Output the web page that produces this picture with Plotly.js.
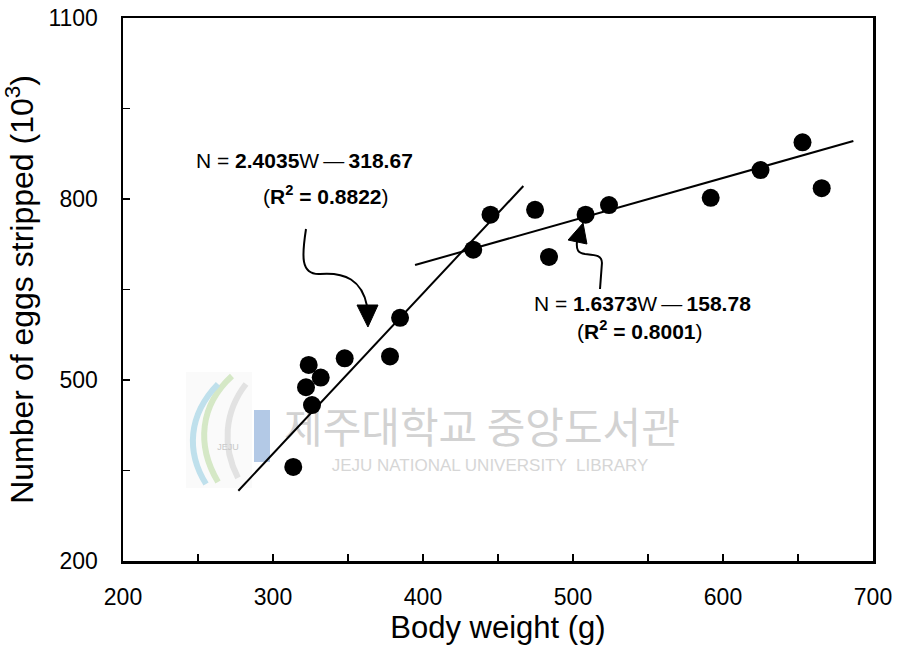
<!DOCTYPE html>
<html>
<head>
<meta charset="utf-8">
<script src="https://cdn.plot.ly/plotly-3.0.1.min.js"></script>
<style>
  html, body { margin: 0; padding: 0; background: #ffffff; }
  #chart { width: 900px; height: 661px; }
</style>
</head>
<body>
<div id="chart"></div>
<script>
// Body weight (g) and number of eggs stripped (x10^3) per female
const bodyWeight = [313.5, 322, 323.8, 326, 331.8, 347.8, 378, 384.7, 433.5, 445, 474.7, 484, 508.4, 524, 591.8, 625, 653, 665.8];
const eggsStripped = [356, 488, 525, 458.5, 504, 536, 539, 603, 716, 774, 782, 704, 774, 790, 802, 848, 894, 818];

// Fitted regression segments (end points of each drawn line)
const fit1W = [276.9, 466.9];
const fit1N = [316.5, 821.5];
const fit2W = [394.7, 686.9];
const fit2N = [690.6, 896];

// Axis ticks
const xTickVals = [200, 250, 300, 350, 400, 450, 500, 550, 600, 650, 700];
const xTickText = ['200', '', '300', '', '400', '', '500', '', '600', '', '700'];
const yTickVals = [200, 350, 500, 650, 800, 950, 1100];
const yTickText = ['200', '', '500', '', '800', '', '1100'];

// Regression equations
const eq1 = ['N = <b>2.4035</b>W\u2009—\u2009<b>318.67</b>', '(<b>R<sup>2</sup> = 0.8822</b>)'];
const eq2 = ['N = <b>1.6373</b>W\u2009—\u2009<b>158.78</b>', '(<b>R<sup>2</sup> = 0.8001</b>)'];

// Library watermark texts
const wmKorean = '제주대학교 중앙도서관';
const wmEnglish = 'JEJU NATIONAL UNIVERSITY  LIBRARY';
const wmLogo = 'JEJU';

const FONT = 'Liberation Sans, Arial, Helvetica, sans-serif';

const traces = [
  // watermark text, drawn first so it sits under the data
  {
    x: [439.3], y: [413.8], type: 'scatter', mode: 'text', text: [wmKorean],
    textfont: { family: 'Noto Sans CJK KR', size: 42, color: '#d2d2d2' },
    hoverinfo: 'skip', showlegend: false, cliponaxis: false
  },
  {
    x: [444.7], y: [355.8], type: 'scatter', mode: 'text', text: [wmEnglish],
    textfont: { family: FONT, size: 17, color: '#d6d6d6' },
    hoverinfo: 'skip', showlegend: false, cliponaxis: false
  },
  {
    x: [270], y: [387.3], type: 'scatter', mode: 'text', text: [wmLogo],
    textfont: { family: FONT, size: 9, color: '#c8c8c8' },
    hoverinfo: 'skip', showlegend: false, cliponaxis: false
  },
  {
    x: fit1W, y: fit1N, type: 'scatter', mode: 'lines',
    line: { color: '#000', width: 2 }, hoverinfo: 'skip', showlegend: false
  },
  {
    x: fit2W, y: fit2N, type: 'scatter', mode: 'lines',
    line: { color: '#000', width: 2 }, hoverinfo: 'skip', showlegend: false
  },
  {
    x: bodyWeight, y: eggsStripped, type: 'scatter', mode: 'markers',
    marker: { color: '#000', size: 18, line: { width: 0 } }, showlegend: false
  }
];

// Logo helpers: canvas pixel -> paper fraction
const L = 123, R = 873, T = 18, B = 561;
const px = v => (v - L) / (R - L);
const py = v => (B - v) / (B - T);
function pathPx(cmds) {
  return cmds.map(c => {
    const out = [c[0]];
    for (let i = 1; i < c.length; i += 2) out.push(px(c[i]).toFixed(4) + ',' + py(c[i + 1]).toFixed(4));
    return out.join(' ');
  }).join(' ');
}

const shapes = [
  // watermark logo
  { type: 'rect', xref: 'paper', yref: 'paper', layer: 'below',
    x0: px(186), x1: px(252), y0: py(488), y1: py(372),
    fillcolor: '#fafafa', line: { width: 0 } },
  { type: 'path', xref: 'paper', yref: 'paper', layer: 'below',
    path: pathPx([['M', 232, 376], ['C', 200, 405, 196, 445, 218, 482]]),
    line: { color: '#d5e8c6', width: 6 } },
  { type: 'path', xref: 'paper', yref: 'paper', layer: 'below',
    path: pathPx([['M', 218, 384], ['C', 188, 415, 186, 452, 206, 484]]),
    line: { color: '#bfe0ec', width: 6 } },
  { type: 'path', xref: 'paper', yref: 'paper', layer: 'below',
    path: pathPx([['M', 246, 384], ['C', 224, 412, 222, 447, 238, 478]]),
    line: { color: '#e2e2e2', width: 6 } },
  { type: 'rect', xref: 'paper', yref: 'paper', layer: 'below',
    x0: px(254), x1: px(270), y0: py(462), y1: py(410),
    fillcolor: '#b3c9e6', line: { width: 0 } },
  // curved arrow pointing at the steep fit
  { type: 'path', xref: 'x', yref: 'y',
    path: 'M 322,750.3 C 319.3,707.2 318,674 331.3,675.7 C 348,679 359.3,665.7 362.7,622.6',
    line: { color: '#000', width: 2 } },
  { type: 'path', xref: 'x', yref: 'y',
    path: 'M 356,624.3 L 370,624.3 L 363.3,587.8 Z',
    fillcolor: '#000', line: { color: '#000', width: 1 } },
  // curved arrow pointing at the shallow fit
  { type: 'path', xref: 'x', yref: 'y',
    path: 'M 518,650.8 L 519.3,693.9 C 519.3,707.2 514.7,707.2 508,708.8 C 503.3,710.5 502,715.5 502.7,730.4',
    line: { color: '#000', width: 2 } },
  { type: 'path', xref: 'x', yref: 'y',
    path: 'M 496.7,732 L 509.3,725.4 L 506.7,760.2 Z',
    fillcolor: '#000', line: { color: '#000', width: 1 } }
];

const eqFont = { family: FONT, size: 21, color: '#000' };
const annotations = [
  { x: 321.3, y: 864.6, xref: 'x', yref: 'y', text: eq1[0], showarrow: false, font: eqFont },
  { x: 335, y: 806.6, xref: 'x', yref: 'y', text: eq1[1], showarrow: false, font: eqFont },
  { x: 546.3, y: 627.6, xref: 'x', yref: 'y', text: eq2[0], showarrow: false, font: eqFont },
  { x: 544.7, y: 582.9, xref: 'x', yref: 'y', text: eq2[1], showarrow: false, font: eqFont }
];

const axisCommon = {
  showgrid: false, zeroline: false,
  showline: true, linecolor: '#000', linewidth: 2.5, mirror: true,
  ticks: 'inside', ticklen: 7, tickwidth: 1.5, tickcolor: '#000',
  tickmode: 'array',
  tickfont: { family: FONT, size: 23, color: '#000' }
};

const layout = {
  width: 900, height: 661,
  margin: { l: 123, r: 27, t: 18, b: 100 },
  paper_bgcolor: '#fff', plot_bgcolor: '#fff',
  xaxis: Object.assign({}, axisCommon, {
    range: [200, 700], tickvals: xTickVals, ticktext: xTickText,
    ticklabelstandoff: 14,
    title: { text: 'Body weight (g)', font: { family: FONT, size: 31, color: '#000' }, standoff: 4 }
  }),
  yaxis: Object.assign({}, axisCommon, {
    range: [200, 1100], tickvals: yTickVals, ticktext: yTickText,
    ticklabelstandoff: 18,
    title: { text: 'Number of eggs stripped (10<sup>3</sup>)', font: { family: FONT, size: 32, color: '#000' }, standoff: 8 }
  }),
  shapes: shapes,
  annotations: annotations,
  showlegend: false
};

Plotly.newPlot('chart', traces, layout, { staticPlot: true, displayModeBar: false });
</script>
</body>
</html>
